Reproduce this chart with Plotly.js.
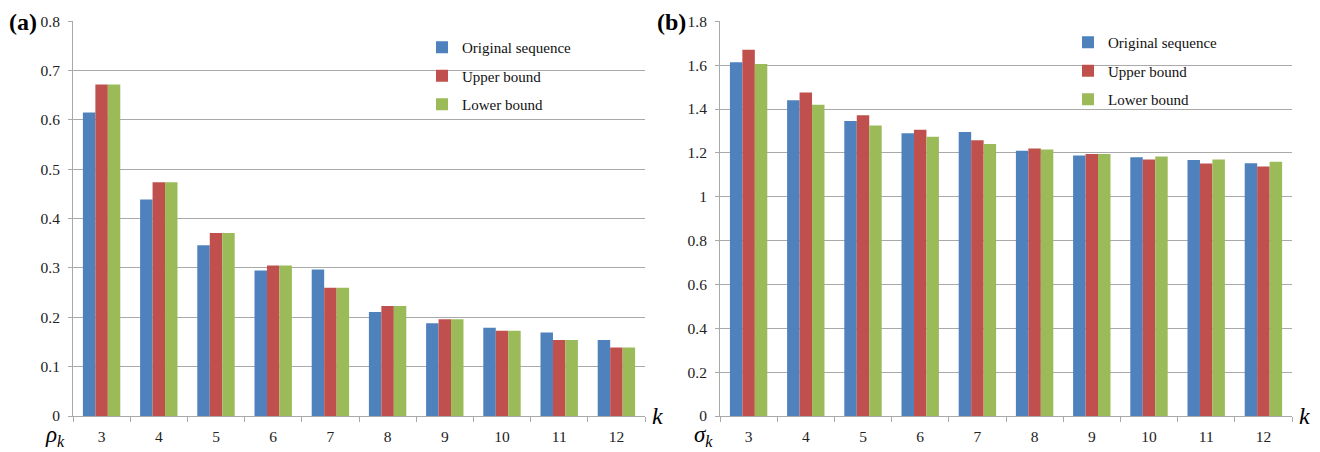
<!DOCTYPE html>
<html>
<head>
<meta charset="utf-8">
<script src="https://cdn.plot.ly/plotly-3.0.1.min.js"></script>
<style>html,body{margin:0;padding:0;background:#fff;}#chart{width:1320px;height:452px;}</style>
</head>
<body>
<div id="chart"></div>
<script>
const categories = ["3","4","5","6","7","8","9","10","11","12"];
const seriesNames = ["Original sequence","Upper bound","Lower bound"];
const seriesColors = ["#4F81BD","#C0504D","#9BBB59"];

// panel (a): rho_k
const rhoOriginal = [0.615,0.439,0.346,0.295,0.297,0.211,0.188,0.179,0.169,0.154];
const rhoUpper    = [0.672,0.474,0.371,0.305,0.260,0.223,0.196,0.173,0.154,0.139];
const rhoLower    = [0.672,0.474,0.371,0.305,0.260,0.223,0.196,0.173,0.154,0.139];

// panel (b): sigma_k
const sigOriginal = [1.613,1.440,1.345,1.290,1.295,1.210,1.188,1.180,1.168,1.153];
const sigUpper    = [1.670,1.475,1.372,1.305,1.258,1.220,1.195,1.170,1.152,1.138];
const sigLower    = [1.605,1.420,1.325,1.273,1.240,1.215,1.195,1.183,1.170,1.160];

const font = "'Liberation Serif', 'Times New Roman', serif";
const gridCol = "#a9a9a9";

const traces = [];
[rhoOriginal, rhoUpper, rhoLower].forEach((v,i)=>{
  traces.push({type:"bar", x:categories, y:v, name:seriesNames[i], xaxis:"x", yaxis:"y",
    marker:{color:seriesColors[i]}, legend:"legend", legendgroup:"a"+i});
});
[sigOriginal, sigUpper, sigLower].forEach((v,i)=>{
  traces.push({type:"bar", x:categories, y:v, name:seriesNames[i], xaxis:"x2", yaxis:"y2",
    marker:{color:seriesColors[i]}, legend:"legend2", legendgroup:"b"+i});
});

const yDom = [36/452, (452-21.3)/452];
function xax(dom, anchor){
  return {domain:dom, anchor:anchor, type:"category", showgrid:false, zeroline:false,
    showline:true, linecolor:gridCol, linewidth:1,
    ticks:"outside", tickson:"boundaries", ticklen:5, tickcolor:gridCol,
    ticklabelstandoff:6,
    tickfont:{family:font, size:15.5, color:"#222"}, fixedrange:true};
}
function yax(dom, anchor, range, dtick){
  return {domain:dom, anchor:anchor, range:range, dtick:dtick, tick0:0,
    showgrid:true, gridcolor:gridCol, gridwidth:1, zeroline:false,
    showline:true, linecolor:gridCol, linewidth:1,
    ticks:"outside", ticklen:4, tickcolor:gridCol, ticklabelstandoff:5,
    tickfont:{family:font, size:15.5, color:"#222"}, fixedrange:true};
}
const legendBase = {bgcolor:"rgba(0,0,0,0)", font:{family:font, size:15, color:"#111"},
  traceorder:"grouped", tracegroupgap:6, xanchor:"left", yanchor:"top", itemclick:false};

function ann(px, py, text, size){
  return {xref:"paper", yref:"paper", x:px/1320, y:(452-py)/452, xanchor:"center", yanchor:"middle",
    text:text, showarrow:false, font:{family:font, size:size, color:"#000"}};
}

const layout = {
  width:1320, height:452, margin:{l:0,r:0,t:0,b:0},
  font:{family:font},
  paper_bgcolor:"#fff", plot_bgcolor:"#fff",
  barmode:"group", bargap:0.346, bargroupgap:0,
  xaxis:xax([73/1320, 645/1320], "y"),
  yaxis:yax(yDom, "x", [0,0.8], 0.1),
  xaxis2:xax([720/1320, 1292/1320], "y2"),
  yaxis2:yax(yDom, "x2", [0,1.8], 0.2),
  legend:Object.assign({}, legendBase, {x:422/1320, y:(452-31)/452}),
  legend2:Object.assign({}, legendBase, {x:1068/1320, y:(452-26)/452}),
  annotations:[
    ann(23, 22, "<b>(a)</b>", 24),
    ann(672, 22, "<b>(b)</b>", 24),
    ann(55, 436, "<i>ρ<sub>k</sub></i>", 23),
    ann(703, 436, "<i>σ<sub>k</sub></i>", 23),
    ann(657, 416, "<i>k</i>", 24),
    ann(1304, 416, "<i>k</i>", 24)
  ]
};
Plotly.newPlot("chart", traces, layout, {displayModeBar:false, staticPlot:true});
</script>
</body>
</html>
